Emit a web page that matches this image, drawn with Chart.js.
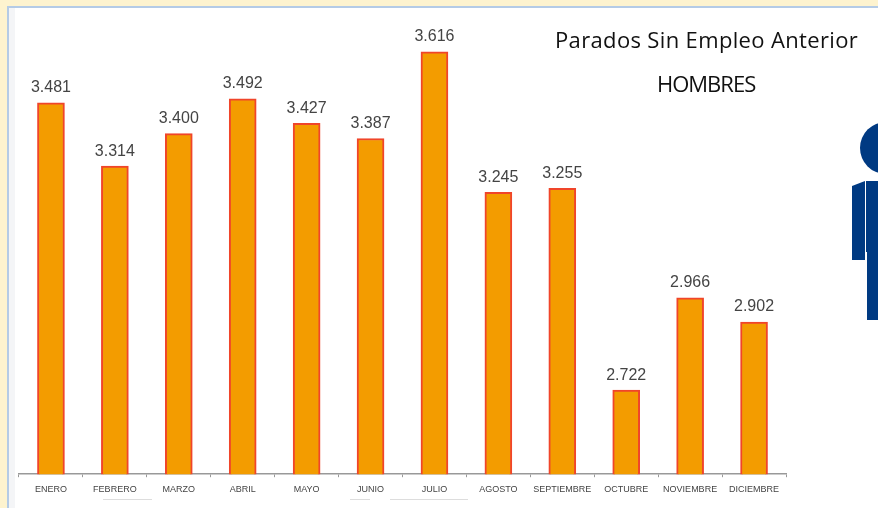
<!DOCTYPE html>
<html>
<head>
<meta charset="utf-8">
<style>
html, body { margin: 0; padding: 0; width: 878px; height: 508px; overflow: hidden; background: #fdf3cf; }
.panel { position: absolute; left: 7px; top: 6px; width: 871px; height: 502px; box-sizing: border-box; background: #fff; border-left: 2px solid #b4cbe6; border-top: 2px solid #b4cbe6; }
.fade { position: absolute; left: 9px; top: 8px; width: 6px; height: 500px; background: #f4f5f7; }
.wrap { position: absolute; left: 0; top: 0; width: 878px; height: 508px; filter: blur(0.5px); }
.title { position: absolute; font-family: "Open Sans", sans-serif; font-size: 22px; color: #111; white-space: nowrap; line-height: 26px; }
.mark { position: absolute; background: #003a82; }
.rule { position: absolute; height: 1px; background: #ddd; }
</style>
</head>
<body>
<div class="panel"></div>
<div class="fade"></div>
<div class="rule" style="left:103px;top:499px;width:49px"></div>
<div class="rule" style="left:350px;top:499px;width:20px"></div>
<div class="rule" style="left:390px;top:499px;width:78px"></div>
<div class="wrap"><canvas id="chart" width="878" height="508"></canvas></div>
<div class="title" style="left:555px;top:26px;letter-spacing:0.35px">Parados Sin Empleo Anterior</div>
<div class="title" style="left:657px;top:70px;letter-spacing:-1px">HOMBRES</div>
<div class="mark" style="left:860px;top:122px;width:52px;height:52px;border-radius:50%"></div>
<div class="mark" style="left:852px;top:181px;width:13px;height:79px;clip-path:polygon(0 5px,100% 0,100% 100%,0 100%)"></div>
<div class="mark" style="left:866px;top:181px;width:12px;height:71px"></div>
<div class="mark" style="left:867px;top:252px;width:11px;height:68px"></div>
<script src="https://cdn.jsdelivr.net/npm/chart.js@4"></script>
<script>
const months = ['ENERO', 'FEBRERO', 'MARZO', 'ABRIL', 'MAYO', 'JUNIO', 'JULIO', 'AGOSTO', 'SEPTIEMBRE', 'OCTUBRE', 'NOVIEMBRE', 'DICIEMBRE'];
const parados = [3481, 3314, 3400, 3492, 3427, 3387, 3616, 3245, 3255, 2722, 2966, 2902];
const valueLabels = ['3.481', '3.314', '3.400', '3.492', '3.427', '3.387', '3.616', '3.245', '3.255', '2.722', '2.966', '2.902'];

const barLabels = {
    id: 'barLabels',
    afterDatasetsDraw(chart) {
        const ctx = chart.ctx;
        const bars = chart.getDatasetMeta(0).data;
        ctx.save();
        ctx.font = '16px "Liberation Sans", sans-serif';
        ctx.fillStyle = '#444';
        ctx.textAlign = 'center';
        ctx.textBaseline = 'bottom';
        bars.forEach(function (bar, i) {
            ctx.fillText(valueLabels[i], bar.x, bar.y - 7);
        });
        ctx.restore();
    },
};

new Chart(document.getElementById('chart').getContext('2d'), {
    type: 'bar',
    data: {
        labels: months,
        datasets: [{
            data: parados,
            backgroundColor: '#f39c00',
            borderColor: '#f0452a',
            borderWidth: 2,
            barThickness: 27,
        }],
    },
    options: {
        responsive: false,
        animation: false,
        layout: { padding: { left: 19, right: 92, top: 20, bottom: 6 } },
        plugins: { legend: { display: false }, tooltip: { enabled: false } },
        scales: {
            x: {
                grid: { drawOnChartArea: false, color: '#999', tickLength: 3 },
                border: { color: '#999', width: 1.5 },
                ticks: {
                    maxRotation: 0,
                    minRotation: 0,
                    autoSkip: false,
                    padding: 7,
                    color: '#444',
                    font: { family: '"Liberation Sans", sans-serif', size: 9 },
                },
            },
            y: { display: false, min: 2500, max: 3700 },
        },
    },
    plugins: [barLabels],
});
</script>
</body>
</html>
